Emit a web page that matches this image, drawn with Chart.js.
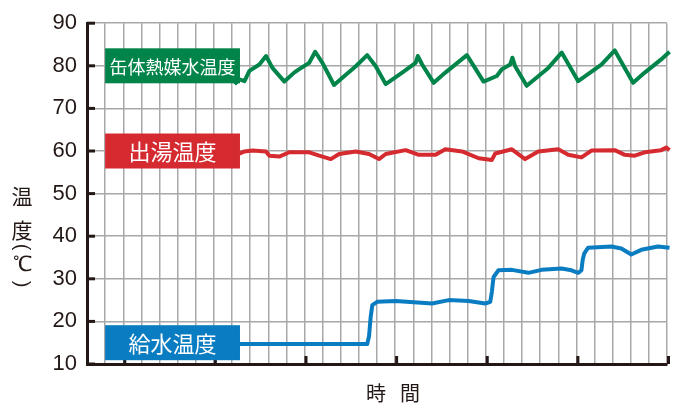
<!DOCTYPE html>
<html lang="ja">
<head>
<meta charset="UTF-8">
<title>温度</title>
<script src="https://cdn.jsdelivr.net/npm/chart.js"></script>
<style>
  body { margin: 0; background: #fff; }
  canvas { display: block; }
</style>
</head>
<body>
<canvas id="myChart" width="680" height="403"></canvas>
<script>
// 缶体熱媒水温度
const greenX = [8.14, 8.41, 8.69, 8.96, 9.51, 9.88, 10.23, 10.89, 11.43, 11.71, 12.26, 12.59, 12.99, 13.63, 14.09, 14.83, 15.46, 15.93, 16.48, 17.39, 18.13, 18.25, 18.49, 19.13, 19.77, 20.96, 21.88, 22.61, 22.89, 23.35, 23.47, 23.62, 24.26, 25.45, 26.19, 27.10, 28.38, 29.12, 30.13, 30.77, 31.68, 32.14];
const greenY = [75.7, 76.8, 76.4, 78.8, 80.3, 82.3, 79.5, 76.3, 78.4, 79.2, 80.7, 83.3, 80.7, 75.5, 77.2, 79.9, 82.5, 79.9, 75.7, 78.4, 80.7, 82.3, 80.3, 76.0, 78.4, 82.5, 76.3, 77.6, 79.2, 80.3, 81.9, 79.9, 75.3, 79.5, 83.1, 76.4, 80.3, 83.6, 76.0, 78.4, 81.5, 83.3];
// 出湯温度
const redX = [8.41, 8.69, 9.13, 9.88, 10.06, 10.61, 11.16, 12.26, 12.81, 13.45, 13.91, 14.83, 15.56, 16.11, 16.48, 17.58, 18.31, 19.23, 19.77, 20.69, 21.61, 22.34, 22.52, 23.44, 24.17, 24.9, 26.0, 26.55, 27.28, 27.83, 29.12, 29.67, 30.22, 30.77, 31.68, 31.96, 32.14];
const redY = [59.4, 59.9, 60.1, 59.9, 58.9, 58.7, 59.7, 59.7, 58.9, 58.1, 59.3, 59.9, 59.3, 58.1, 59.3, 60.2, 59.1, 59.1, 60.4, 59.9, 58.3, 57.9, 59.4, 60.4, 58.1, 59.9, 60.4, 59.1, 58.5, 60.1, 60.2, 59.1, 58.9, 59.7, 60.2, 60.8, 60.2];
// 給水温度
const blueX = [8.14, 10.5, 13.0, 15.46, 15.56, 15.65, 15.74, 16.01, 17.03, 19.04, 19.96, 21.06, 21.97, 22.25, 22.34, 22.43, 22.7, 23.44, 24.35, 25.08, 26.18, 26.73, 27.1, 27.28, 27.35, 27.43, 27.65, 28.93, 29.48, 30.03, 30.58, 31.5, 32.14];
const blueY = [14.7, 14.7, 14.7, 14.7, 16.5, 21.0, 23.8, 24.6, 24.8, 24.2, 25.0, 24.8, 24.2, 24.6, 27.0, 30.4, 32.0, 32.1, 31.4, 32.1, 32.4, 32.0, 31.4, 32.0, 34.5, 35.9, 37.3, 37.6, 37.1, 35.7, 36.8, 37.6, 37.3];

const labels = [
    { text: '缶体熱媒水温度', y: 80, color: '#00844a', size: 18 },
    { text: '出湯温度', y: 60, color: '#d52a30', size: 22 },
    { text: '給水温度', y: 15, color: '#0a7cc1', size: 22 }
];
const xTicks = [2, 7, 12, 17, 22, 27, 32];

const dark = '#231815';
const toPoints = (xs, ys) => xs.map((x, i) => ({ x: x, y: ys[i] }));

const decor = {
    id: 'decor',
    afterDraw(chart) {
        const c = chart.ctx;
        const xs = chart.scales.x, ys = chart.scales.y;
        const area = chart.chartArea;
        c.save();
        // inner ticks
        c.strokeStyle = dark;
        c.lineWidth = 3;
        for (let v = 10; v <= 90; v += 10) {
            const py = ys.getPixelForValue(v);
            c.beginPath(); c.moveTo(area.left, py); c.lineTo(area.left + 8, py); c.stroke();
        }
        xTicks.forEach(v => {
            const px = xs.getPixelForValue(v) + 1.5;
            c.beginPath(); c.moveTo(px, area.bottom); c.lineTo(px, area.bottom - 8); c.stroke();
        });
        // label boxes
        labels.forEach(l => {
            const x0 = xs.getPixelForValue(1), x1 = xs.getPixelForValue(8.44);
            const cy = ys.getPixelForValue(l.y);
            c.fillStyle = l.color;
            c.fillRect(x0, cy - 17.5, x1 - x0, 35);
            c.fillStyle = '#fff';
            c.font = l.size + 'px "Noto Sans CJK JP"';
            c.textAlign = 'center';
            c.textBaseline = 'middle';
            c.fillText(l.text, (x0 + x1) / 2, cy + 1);
        });
        // axis titles
        c.fillStyle = dark;
        c.font = '21px "Noto Sans CJK JP"';
        c.textAlign = 'center';
        c.textBaseline = 'middle';
        c.fillText('温', 22, 196);
        c.fillText('度', 22, 230);
        c.font = '21px "Liberation Sans", Arial';
        c.fillText('℃', 22, 265);
        c.font = '20px "Liberation Sans", Arial';
        [['(', 247], [')', 284]].forEach(p => {
            c.save();
            c.translate(22, p[1]);
            c.rotate(Math.PI / 2);
            c.fillText(p[0], 0, 0);
            c.restore();
        });
        c.font = '20px "Noto Sans CJK JP"';
        c.fillText('時', 376, 393);
        c.fillText('間', 410, 393);
        c.restore();
    }
};

const line = (xs, ys, color) => ({
    data: toPoints(xs, ys),
    borderColor: color,
    borderWidth: 4,
    pointRadius: 0,
    tension: 0,
    borderJoinStyle: 'round',
    clip: false
});

new Chart(document.getElementById('myChart'), {
    type: 'line',
    data: {
        datasets: [
            line(greenX, greenY, '#00844a'),
            line(redX, redY, '#d52a30'),
            line(blueX, blueY, '#0a7cc1')
        ]
    },
    options: {
        responsive: false,
        animation: false,
        devicePixelRatio: 1,
        layout: { padding: { top: 22, right: 13, left: 0, bottom: 0 } },
        plugins: { legend: { display: false }, tooltip: { enabled: false } },
        scales: {
            x: {
                type: 'linear',
                min: 0,
                max: 32,
                ticks: { stepSize: 1, display: false },
                grid: { color: '#a8a8a8', lineWidth: 1.5, drawTicks: false },
                border: { color: dark, width: 3 },
                afterFit: s => { s.height = 39; }
            },
            y: {
                min: 10,
                max: 90,
                ticks: {
                    stepSize: 5,
                    padding: 10,
                    color: dark,
                    font: { family: '"Liberation Sans", Arial', size: 22 },
                    callback: v => (v % 10 === 0 ? v : '')
                },
                grid: { color: '#a8a8a8', lineWidth: 1.5, drawTicks: false },
                border: { color: dark, width: 3 },
                afterFit: s => { s.width = 87; }
            }
        }
    },
    plugins: [decor]
});
</script>
</body>
</html>
